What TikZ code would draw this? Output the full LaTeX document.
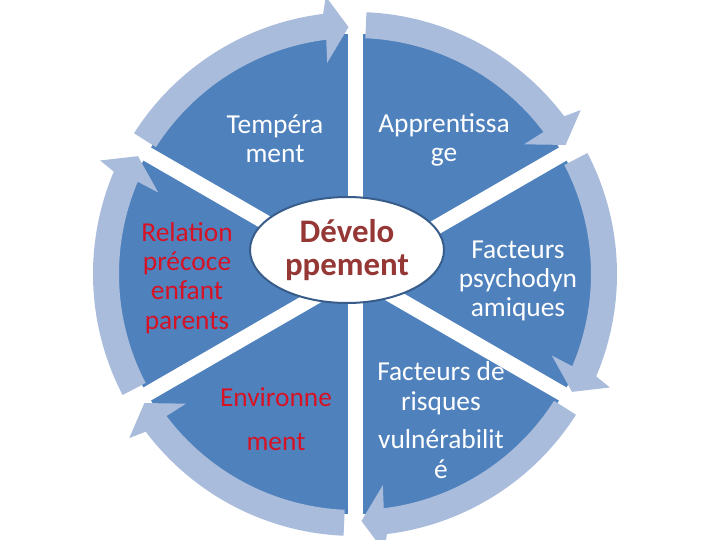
\documentclass[tikz,border=0pt]{standalone}
\usepackage{fontspec}
\setmainfont{Carlito}
\usepackage{xcolor}
\usetikzlibrary{shapes.geometric}
\definecolor{pieblue}{RGB}{79,129,189}
\definecolor{ringblue}{RGB}{169,188,219}
\definecolor{rimblue}{RGB}{56,93,138}
\definecolor{labelred}{RGB}{214,18,36}
\definecolor{corered}{RGB}{149,55,53}

\begin{document}
\begin{tikzpicture}[x=1bp, y=1bp,
    segtext/.style={align=center, inner sep=0pt, text=#1, font=\fontsize{27.5}{29.5}\selectfont},
    segtext/.default=white,
    gap/.style={white, line width=15bp},
    ring/.style={fill=ringblue},
    core/.style={ellipse, draw=rimblue, line width=2bp, fill=white, minimum width=194bp, minimum height=106bp, inner sep=0pt, align=center, text=corered, font=\bfseries\fontsize{33}{34}\selectfont}
]
\useasboundingbox (-355,-266) rectangle (365,274);

\fill[pieblue] (0,0) circle[radius=240];
\foreach \b in {90,30,-30,-90,-150,150}
  \draw[gap] (0,0) -- (\b:246);

\foreach \b in {90,30,-30,-90,-150,150}
  \fill[ring] (\b+57.5:262) arc[start angle=\b+57.5, end angle=\b+7, radius=262]
    -- (\b+6:279) -- (\b+1.5:247) -- (\b+7.5:213) -- (\b+7:236)
    arc[start angle=\b+7, end angle=\b+57.5, radius=236] -- cycle;

\node[core] (dev) at (-8,24) {Dévelo\\ppement};

\node[segtext] (temp) at (-80,135) {Tempéra\\ment};
\node[segtext] (appr) at (89,134) {Apprentissa\\ge};
\node[segtext] (psy) at (163,-7) {Facteurs\\psychodyn\\amiques};
\node[segtext] (risk) at (86,-146) {Facteurs de\\risques\\[9bp]vulnérabilit\\é};
\node[segtext=labelred] (env) at (-79,-145) {Environne\\[15bp]ment};
\node[segtext=labelred] (rel) at (-168,-4) {Relation\\précoce\\enfant\\parents};
\end{tikzpicture}
\end{document}
